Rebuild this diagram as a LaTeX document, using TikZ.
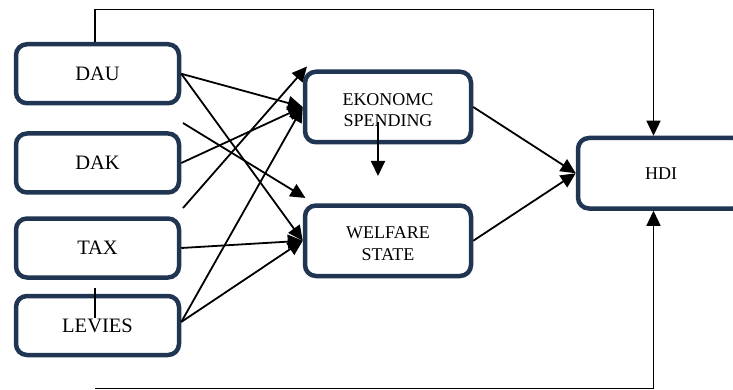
\documentclass[tikz,border=0pt]{standalone}
\usepackage{fontspec}
\setmainfont{Liberation Serif}
\usetikzlibrary{arrows.meta,calc}
\definecolor{boxblue}{HTML}{1F3552}
\begin{document}
\begin{tikzpicture}[x=1pt,y=-1pt,
  box/.style={draw=boxblue,line width=4.5pt,rounded corners=11pt,inner sep=0pt,align=center},
  leftbox/.style={box,minimum width=163pt,minimum height=59pt,font=\fontsize{20.5}{24}\selectfont},
  midbox/.style={box,minimum width=166pt,minimum height=70.5pt,font=\fontsize{18}{21.7}\selectfont},
  midtext/.style={align=center,inner sep=0pt,font=\fontsize{18}{21.7}\selectfont,yshift=-3pt},
  arr/.style={line width=1.8pt,-{Triangle[length=15pt,width=14pt]}},
  frame/.style={line width=1.3pt},
  framearr/.style={frame,-{Triangle[length=15pt,width=14pt]}},
  ]
\clip (0,0) rectangle (733,390);
\fill[white] (0,0) rectangle (733,390);
% nodes
\node[leftbox] (dau) at (97.5,73.75) {DAU};
\node[leftbox] (dak) at (97.5,163) {DAK};
\node[leftbox] (tax) at (97.5,248) {TAX};
\node[leftbox] (lev) at (97.5,325.5) {LEVIES};
\node[midbox,label={[midtext]center:EKONOMC\\SPENDING}] (eko) at (388,107) {};
\node[midbox,label={[midtext]center:WELFARE\\STATE}] (wel) at (388,240.75) {};
\node[midbox] (hdi) at (661,173.25) {HDI};
% free coordinates
\coordinate (s1) at (183,123);
\coordinate (e1) at (305.5,198);
\coordinate (s2) at (183,208);
\coordinate (e2) at (307,66.5);
\coordinate (v1) at (378,122);
\coordinate (v2) at (378,176);
\coordinate (tl) at (95,9.5);
\coordinate (tr) at (653.5,9.5);
\coordinate (bl) at (95,388.5);
\coordinate (br) at (653.5,388.5);
\coordinate (m1) at (95,288);
\coordinate (m2) at (95,318);
% connectors
\draw[arr] (dau.east) -- (eko.west);
\draw[arr] (dau.east) -- (wel.west);
\draw[arr] (dak.east) -- (eko.west);
\draw[arr] (tax.east) -- (wel.west);
\draw[arr] ([yshift=3.5pt]lev.east) -- (eko.west);
\draw[arr] ([yshift=3.5pt]lev.east) -- (wel.west);
\draw[arr] (s1) -- (e1);
\draw[arr] (s2) -- (e2);
\draw[arr] (v1) -- (v2);
\draw[arr] (eko.east) -- (hdi.west);
\draw[arr] (wel.east) -- (hdi.west);
\draw[framearr] (dau.north -| tl) |- (tr) -- (hdi.north -| tr);
\draw[framearr] (bl) -- (br) -- (hdi.south -| br);
\draw[frame] (m1) -- (m2);
\end{tikzpicture}
\end{document}
